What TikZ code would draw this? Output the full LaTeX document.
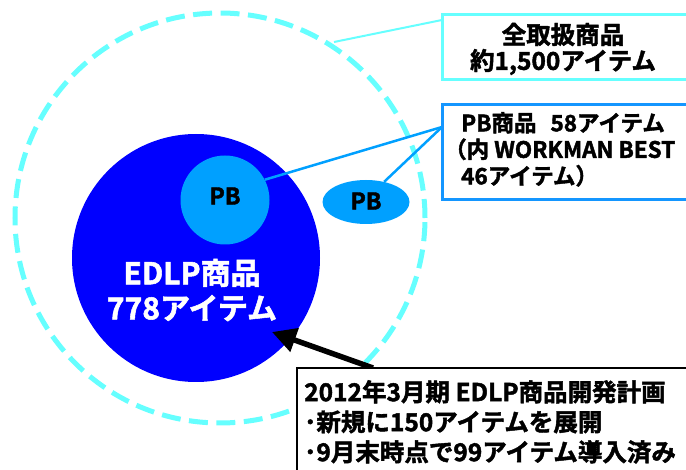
\documentclass[tikz,border=0pt]{standalone}
\usepackage{fontspec}
\setmainfont{Noto Sans CJK JP}[BoldFont={Noto Sans CJK JP Bold}, BoldFeatures={FakeBold=1.8}]
\usetikzlibrary{arrows.meta,shapes.geometric}
\definecolor{outercyan}{RGB}{102,255,255}
\definecolor{edlpblue}{RGB}{0,0,255}
\definecolor{pbblue}{RGB}{0,160,255}
\definecolor{boxblue}{RGB}{20,150,255}
\tikzset{
  lbl/.style={font=\bfseries, text=black, inner sep=0pt},
  calloutbox/.style={draw, line width=3pt, fill=white},
  pbline/.style={draw=pbblue, line width=2.5pt},
}
\begin{document}
\begin{tikzpicture}[x=1pt,y=-1pt]
\useasboundingbox (0,0) rectangle (686,470);
\clip (0,0) rectangle (686,470);
\fill[white] (0,0) rectangle (686,470);
% outer dashed circle
\node[circle, draw=outercyan, line width=5pt, dash pattern=on 19pt off 8.5pt, minimum size=410pt, inner sep=0pt] (all) at (220,218) {};
% EDLP circle
\node[circle, fill=edlpblue, minimum size=248pt, inner sep=0pt] (edlp) at (196,258) {};
\node[lbl, text=white, align=center, font=\bfseries\fontsize{30}{35}\selectfont] (edlpt) at (192,290) {EDLP商品\\778アイテム};
% PB circle
\node[circle, fill=pbblue, minimum size=89pt, inner sep=0pt] (pbin) at (225,200) {};
\node[lbl, font=\bfseries\fontsize{23}{24}\selectfont] (pbint) at (225,196) {PB};
% PB ellipse
\node[ellipse, fill=pbblue, minimum width=87pt, minimum height=44pt, inner sep=0pt] (pbout) at (366,202) {};
\node[lbl, font=\bfseries\fontsize{23}{24}\selectfont] (pboutt) at (366,201) {PB};
% box 1
\coordinate (b1a) at (442,15);
\coordinate (b1b) at (700,80);
\draw[calloutbox, draw=outercyan] (b1a) rectangle (b1b);
\coordinate (b1l) at (442,20);
\coordinate (c1) at (334,42);
\draw[draw=outercyan, line width=2pt] (c1) -- (b1l);
\node[lbl, align=center, font=\bfseries\fontsize{24.5}{26}\selectfont] (b1t) at (563,49) {全取扱商品\\約1,500アイテム};
% box 2
\coordinate (b2a) at (442,105);
\coordinate (b2b) at (700,200);
\coordinate (b2l) at (442,127);
\draw[pbline] (b2l) -- (pbin.27);
\draw[pbline] (b2l) -- (pbout.48);
\draw[calloutbox, draw=boxblue] (b2a) rectangle (b2b);
\node[lbl, align=left, anchor=north west, font=\bfseries\fontsize{22.5}{26.5}\selectfont] (b2t) at (444,112) {\hspace*{17pt}PB商品\hspace*{14pt}58アイテム\\（内 WORKMAN BEST\\\hspace*{17pt}46アイテム）};
% box 3
\coordinate (b3a) at (297,368);
\coordinate (b3b) at (700,480);
\coordinate (b3top) at (373,368);
\coordinate (arrtip) at (272,332);
\draw[line width=5.5pt, -{Triangle[length=24pt,width=24pt]}] (b3top) -- (arrtip);
\draw[fill=white, draw=black, line width=2pt] (b3a) rectangle (b3b);
\node[lbl, align=left, anchor=north west, font=\bfseries\fontsize{24.5}{30}\selectfont] (b3t) at (304,380) {2012年3月期 EDLP商品開発計画\\･新規に150アイテムを展開\\･9月末時点で99アイテム導入済み};
\end{tikzpicture}
\end{document}
